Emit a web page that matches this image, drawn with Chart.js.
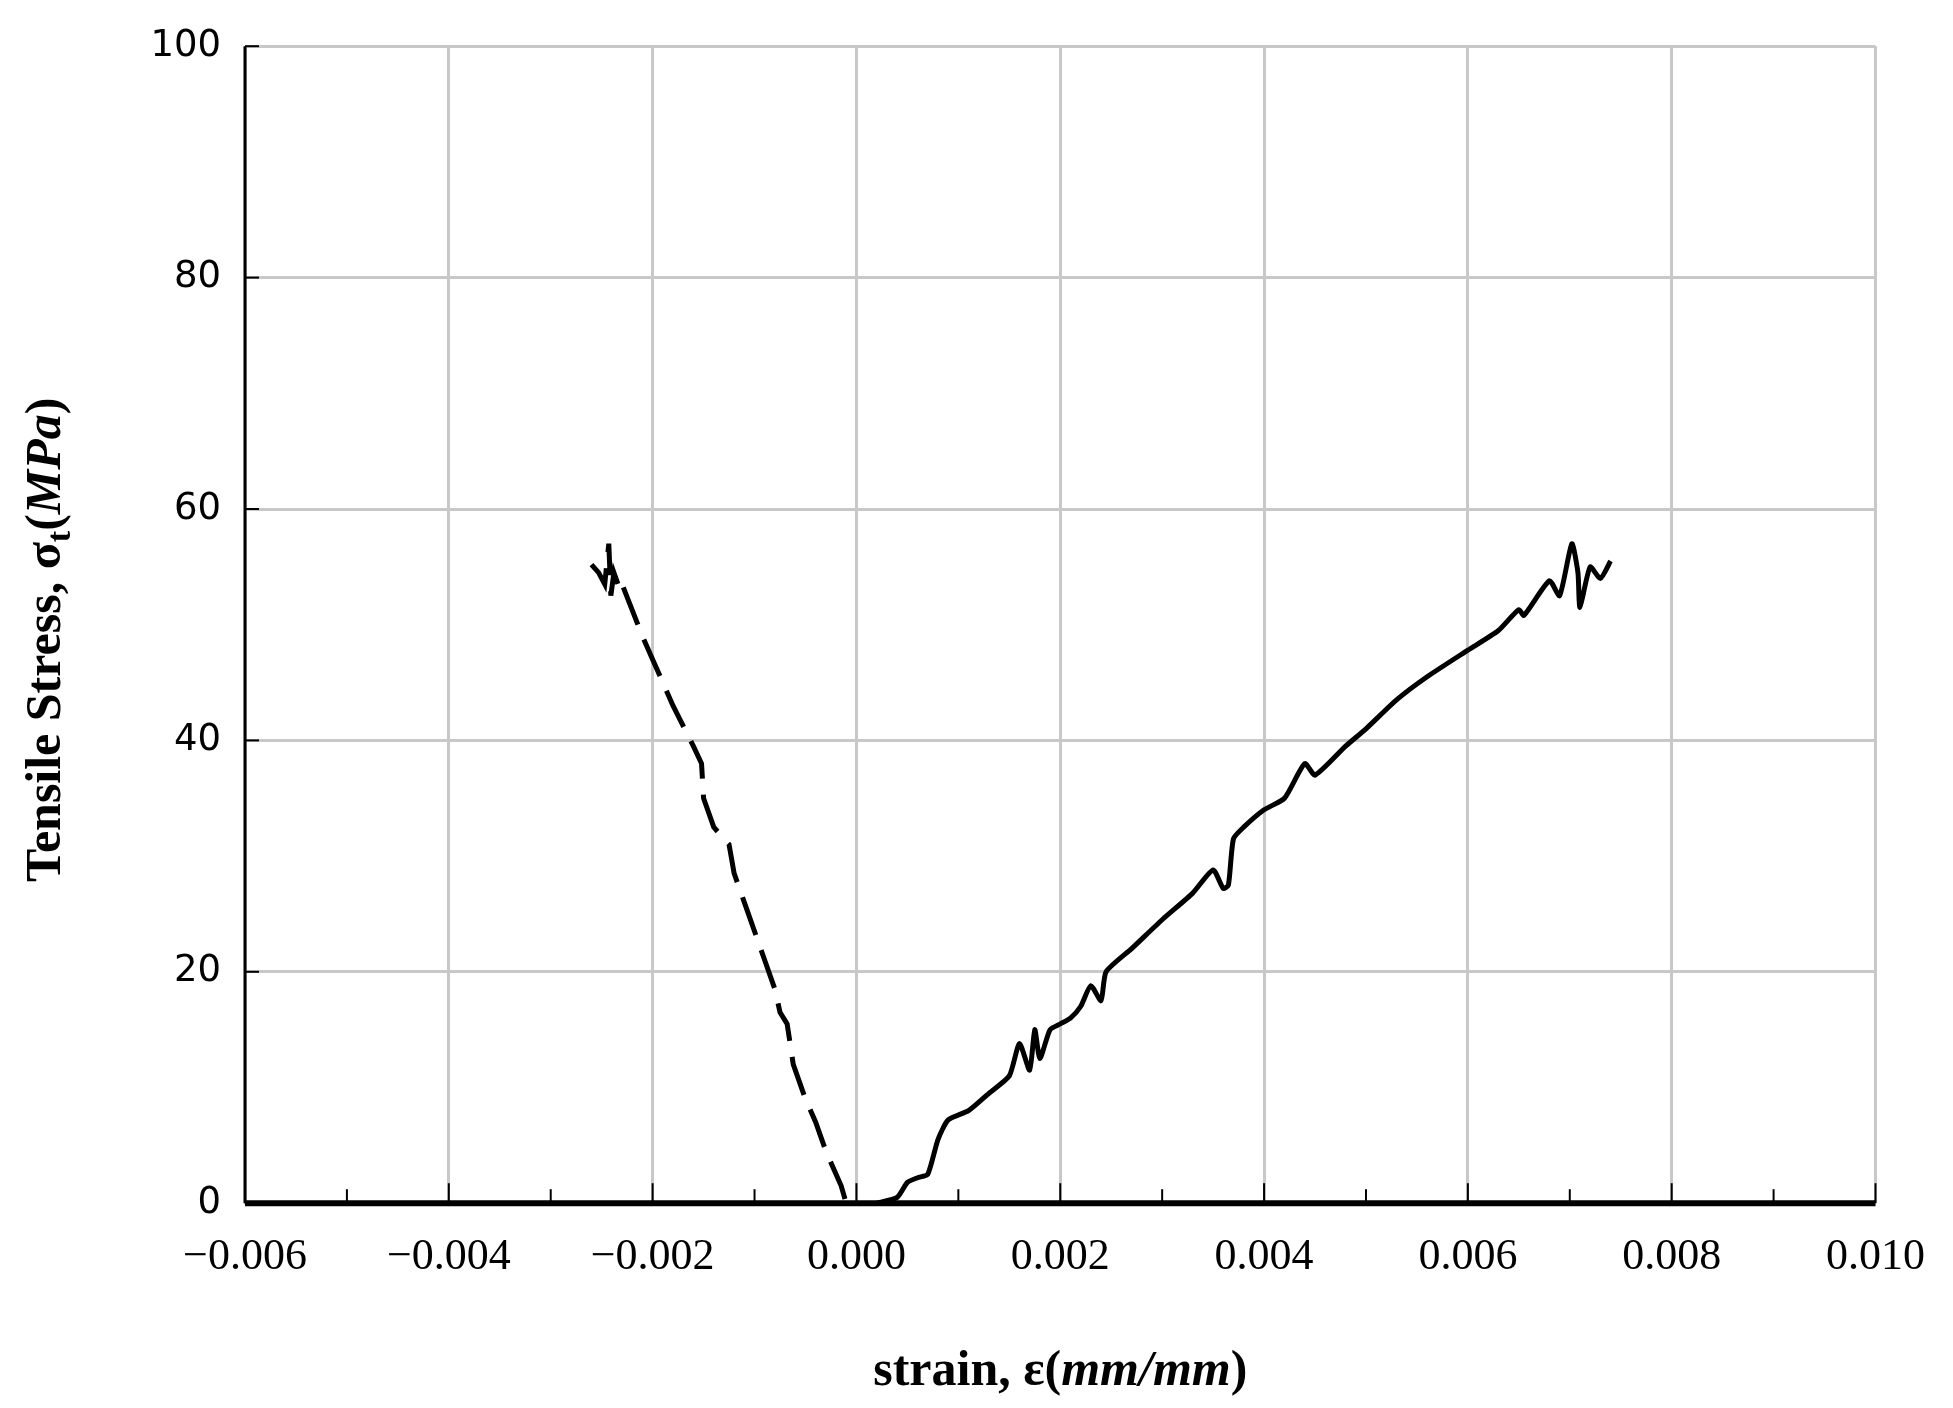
<!DOCTYPE html>
<html><head><meta charset="utf-8">
<script src="https://cdn.jsdelivr.net/npm/chart.js@4/dist/chart.umd.min.js"></script>
<style>html,body{margin:0;background:#fff}#wrap{width:1953px;height:1408px}</style>
</head><body><div id="wrap"><canvas id="c"></canvas></div>
<script>
// Curva de compresión (izquierda, discontinua) y tracción (derecha, continua)
const leftStrain = [-0.0026, -0.00253, -0.00247, -0.00243, -0.00241, -0.00238, -0.00232, -0.0023, -0.0021, -0.002, -0.0018, -0.0016, -0.00152, -0.0015, -0.0014, -0.00125, -0.0012, -0.0011, -0.0009, -0.0008, -0.00075, -0.00068, -0.00062, -0.0005, -0.0004, -0.0003, -0.0002, -0.00015, -0.0001];
const leftStress = [55.2, 54.5, 53.5, 57, 52.5, 54.5, 53, 53.5, 49, 47, 43, 39.5, 38, 35, 32.5, 31, 28.5, 26, 21, 18.5, 16.5, 15.5, 12, 9, 7, 4.5, 2.5, 1.5, 0];
const rightStrain = [0.0002, 0.0004, 0.0005, 0.0006, 0.0007, 0.0008, 0.0009, 0.0011, 0.0013, 0.0015, 0.0016, 0.0017, 0.00175, 0.0018, 0.0019, 0.002, 0.0021, 0.0022, 0.0023, 0.0024, 0.00245, 0.0027, 0.003, 0.0033, 0.0035, 0.0036, 0.00365, 0.0037, 0.0038, 0.004, 0.0042, 0.0044, 0.0045, 0.0048, 0.005, 0.0053, 0.0056, 0.006, 0.0063, 0.0065, 0.00655, 0.0068, 0.0069, 0.00702, 0.00708, 0.0071, 0.0072, 0.0073, 0.0074];
const rightStress = [0, 0.5, 1.8, 2.2, 2.5, 5.5, 7.2, 8, 9.5, 11, 13.8, 11.5, 15, 12.5, 15, 15.5, 16, 17, 18.8, 17.5, 20, 22, 24.5, 26.8, 28.8, 27.2, 27.5, 31.5, 32.5, 34, 35, 38, 37, 39.5, 41, 43.5, 45.5, 47.8, 49.5, 51.3, 50.8, 53.8, 52.5, 57, 54.5, 51.5, 55, 54, 55.5];
const xTicks = [-0.006, -0.004, -0.002, 0.000, 0.002, 0.004, 0.006, 0.008, 0.010];

const fmt = (v) => (v < 0 ? "\u2212" : "") + Math.abs(v).toFixed(3);
const isMajor = (v) => xTicks.some((t) => Math.abs(t - v) < 1e-9);

// Ejes: marcas hacia dentro + títulos con cursiva mixta
const decor = {
  id: "decor",
  afterDraw(ch) {
    const c = ch.ctx, a = ch.chartArea, x = ch.scales.x, y = ch.scales.y;
    c.save();
    c.strokeStyle = "#000"; c.lineWidth = 2;
    for (let v = -0.006; v <= 0.01001; v += 0.001) {
      const px = x.getPixelForValue(v), len = isMajor(v) ? 20 : 14;
      c.beginPath(); c.moveTo(px, a.bottom); c.lineTo(px, a.bottom - len); c.stroke();
    }
    for (let v = 0; v <= 100; v += 20) {
      const py = y.getPixelForValue(v);
      c.beginPath(); c.moveTo(a.left, py); c.lineTo(a.left + 14, py); c.stroke();
    }
    c.lineWidth = 6;
    c.beginPath(); c.moveTo(a.left, a.bottom); c.lineTo(a.right, a.bottom); c.stroke();
    c.lineWidth = 3;
    c.beginPath(); c.moveTo(a.left, a.top); c.lineTo(a.left, a.bottom); c.stroke();
    c.fillStyle = "#000"; c.textBaseline = "alphabetic";
    const parts = (arr, cx, cy) => {
      let w = 0;
      arr.forEach((p) => { c.font = p[1]; w += c.measureText(p[0]).width; });
      let px = cx - w / 2;
      arr.forEach((p) => { c.font = p[1]; c.fillText(p[0], px, cy + (p[2] || 0)); px += c.measureText(p[0]).width; });
    };
    const B = "bold 50px 'Liberation Serif'", BI = "italic bold 50px 'Liberation Serif'";
    parts([["strain, \u03b5(", B], ["mm/mm", BI], [")", B]], (a.left + a.right) / 2, 1385);
    c.translate(60, (a.top + a.bottom) / 2 + 15); c.rotate(-Math.PI / 2);
    parts([["Tensile Stress, \u03c3", B], ["t", "bold 34px 'Liberation Serif'", 10], ["(", B], ["MPa", BI], [")", B]], 0, 0);
    c.restore();
  },
};

new Chart(document.getElementById("c"), {
  type: "scatter",
  data: {
    datasets: [
      { data: leftStrain.map((v, i) => ({ x: v, y: leftStress[i] })), showLine: true, borderColor: "#000",
        borderWidth: 5, borderDash: [40, 16], pointRadius: 0, tension: 0 },
      { data: rightStrain.map((v, i) => ({ x: v, y: rightStress[i] })), showLine: true, borderColor: "#000",
        borderWidth: 5, pointRadius: 0, tension: 0.2 },
    ],
  },
  options: {
    responsive: true, maintainAspectRatio: false, animation: false,
    layout: { padding: { top: 38, right: 70, bottom: 96, left: 0 } },
    plugins: { legend: { display: false }, tooltip: { enabled: false } },
    scales: {
      x: {
        type: "linear", min: -0.006, max: 0.010,
        afterBuildTicks: (s) => { s.ticks = []; for (let i = 0; i <= 16; i++) s.ticks.push({ value: -0.006 + i * 0.001 }); },
        grid: { color: (c) => isMajor(c.tick.value) ? "#c8c8c8" : "rgba(0,0,0,0)", lineWidth: 3, drawTicks: false },
        border: { display: false },
        ticks: { color: "#000", padding: 28, maxRotation: 0, autoSkip: false,
          font: { family: "Liberation Serif", size: 44 }, callback: (v) => isMajor(v) ? fmt(v) : "" },
      },
      y: {
        min: 0, max: 100,
        afterFit: (s) => { s.width = 245; },
        grid: { color: "#c8c8c8", lineWidth: 3, drawTicks: false },
        border: { display: false },
        ticks: { stepSize: 20, color: "#000", padding: 24, font: { family: "DejaVu Sans", size: 37 } },
      },
    },
  },
  plugins: [decor],
});
</script></body></html>
